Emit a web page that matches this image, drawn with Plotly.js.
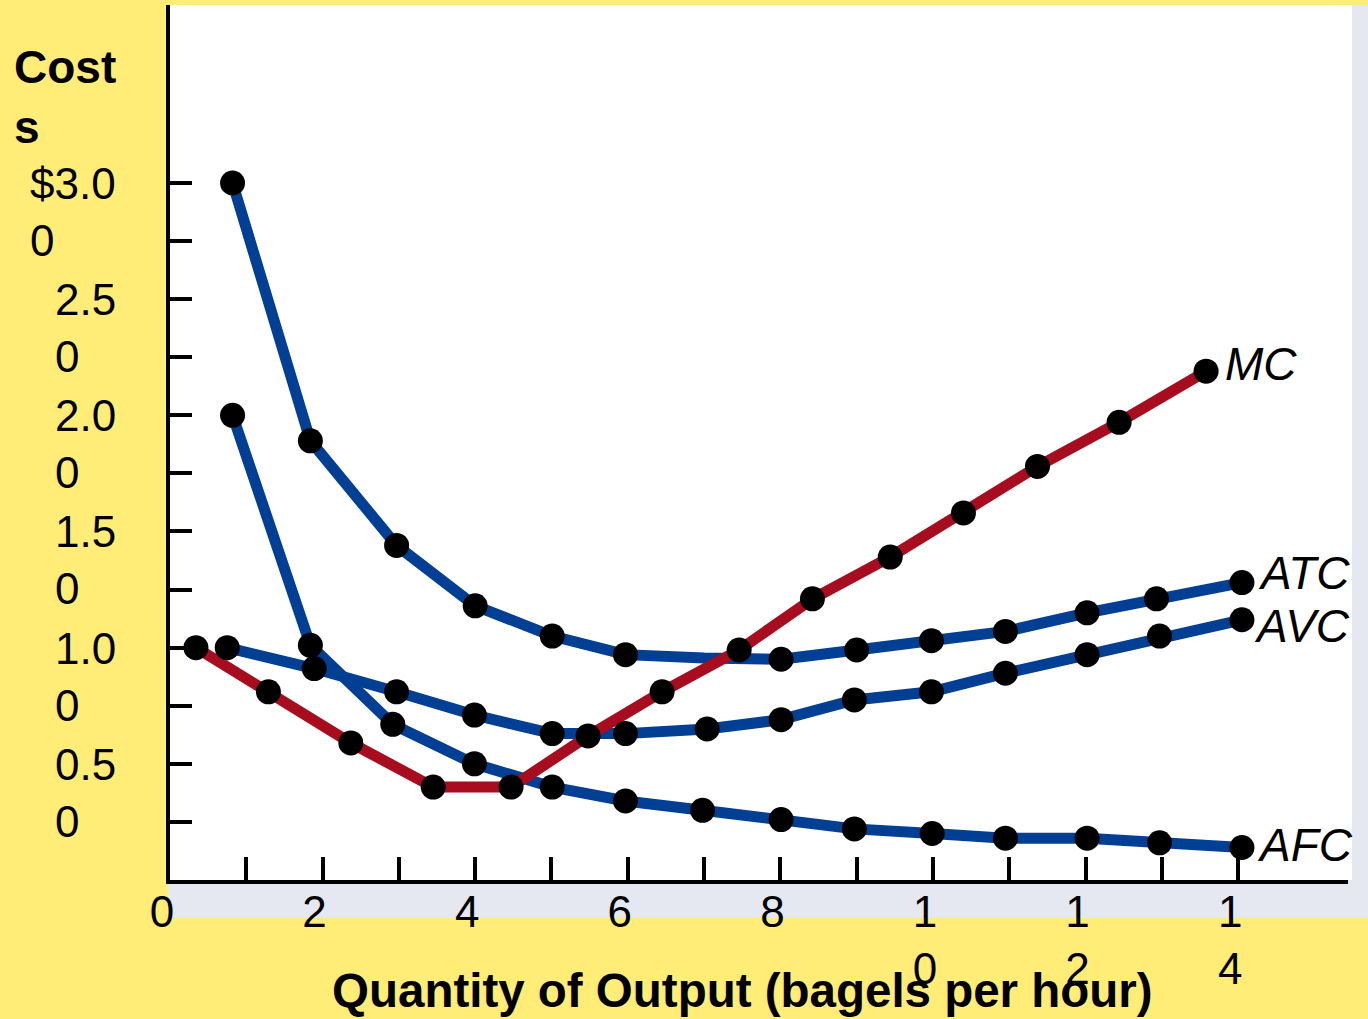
<!DOCTYPE html>
<html>
<head>
<meta charset="utf-8">
<script src="https://cdn.plot.ly/plotly-3.0.1.min.js"></script>
<style>
  html, body { margin: 0; padding: 0; background: #FFED78; }
  #chart { width: 1368px; height: 1019px; }
</style>
</head>
<body>
<div id="chart"></div>
<script>
// ---- Data ----
const qATC = [0.82, 1.84, 2.97, 4.00, 5.01, 5.97, 7.00, 8.01, 9.00, 9.98, 10.95, 12.02, 12.93, 14.05];
const atc  = [3.00, 1.89, 1.44, 1.18, 1.05, 0.97, 0.955, 0.95, 0.99, 1.03, 1.07, 1.15, 1.21, 1.28];
const atcUnmarked = [6];   // index of the ATC vertex drawn without a dot

const qAVC = [0.75, 1.89, 2.97, 3.99, 5.01, 5.97, 7.04, 8.01, 8.97, 9.98, 10.95, 12.02, 12.97, 14.05];
const avc  = [1.00, 0.91, 0.81, 0.71, 0.63, 0.63, 0.65, 0.69, 0.775, 0.81, 0.89, 0.97, 1.05, 1.12];

const qAFC = [0.82, 1.84, 2.92, 3.99, 5.01, 5.97, 6.98, 8.01, 8.97, 9.99, 10.95, 12.02, 12.97, 14.05];
const afc  = [2.00, 1.01, 0.67, 0.50, 0.40, 0.34, 0.30, 0.26, 0.22, 0.20, 0.18, 0.18, 0.16, 0.14];

const qMC = [0.34, 1.29, 2.37, 3.45, 4.47, 5.48, 6.45, 7.46, 8.42, 9.44, 10.40, 11.37, 12.44, 13.58];
const mc  = [1.00, 0.81, 0.59, 0.40, 0.40, 0.62, 0.81, 0.99, 1.21, 1.39, 1.58, 1.78, 1.97, 2.19];

const curveNames = ["MC", "ATC", "AVC", "AFC"];

const xTickVals = [0, 1, 2, 3, 4, 5, 6, 7, 8, 9, 10, 11, 12, 13, 14];
const xTickText = ["0", "", "2", "", "4", "", "6", "", "8", "", "1<br>0", "", "1<br>2", "", "1<br>4"];
const yTickVals = [0.25, 0.50, 0.75, 1.00, 1.25, 1.50, 1.75, 2.00, 2.25, 2.50, 2.75, 3.00];
const yLabelVals = [3.00, 2.50, 2.00, 1.50, 1.00, 0.50];
const yLabelText = ["$3.0<br>0", "2.5<br>0", "2.0<br>0", "1.5<br>0", "1.0<br>0", "0.5<br>0"];

const yTitle = "Cost<br>s";
const xTitle = "Quantity of Output (bagels per hour)";

// ---- Styles ----
const FONT = "Liberation Sans, Arial, Helvetica, sans-serif";
const BLUE = "#003F94";
const RED = "#A80D1F";
const YELLOW = "#FFED78";
const BAND = "#E5E8F0";
const LW = 11;
const DOT = 25;

function lineTrace(x, y, color) {
  return { type: "scatter", mode: "lines", x: x, y: y,
           line: { color: color, width: LW }, hoverinfo: "skip", showlegend: false };
}
function dotTrace(x, y, skip) {
  const xs = [], ys = [];
  x.forEach((v, i) => { if (!(skip || []).includes(i)) { xs.push(v); ys.push(y[i]); } });
  return { type: "scatter", mode: "markers", x: xs, y: ys,
           marker: { color: "black", size: DOT }, hoverinfo: "skip", showlegend: false };
}

const traces = [
  lineTrace(qAFC, afc, BLUE),
  lineTrace(qAVC, avc, BLUE),
  lineTrace(qATC, atc, BLUE),
  lineTrace(qMC, mc, RED),
  dotTrace(qAFC, afc),
  dotTrace(qAVC, avc),
  dotTrace(qATC, atc, atcUnmarked),
  dotTrace(qMC, mc)
];

const annotations = [];
// y tick labels (left-aligned lines, first line centred on its tick)
yLabelVals.forEach((v, i) => {
  annotations.push({
    xref: "paper", x: 0, xshift: -52, xanchor: "right",
    yref: "y", y: v, yanchor: "middle", yshift: -29,
    text: yLabelText[i], align: "left", showarrow: false,
    font: { family: FONT, size: 44, color: "black" }
  });
});
// axis titles
annotations.push({
  xref: "paper", x: (12 - 170) / 1178, xanchor: "left",
  yref: "paper", y: (880 - 97) / 875, yanchor: "middle",
  text: "<b>" + yTitle + "</b>", align: "left", showarrow: false,
  font: { family: FONT, size: 46, color: "black" }
});
annotations.push({
  xref: "paper", x: (742 - 170) / 1178, xanchor: "center",
  yref: "paper", y: (880 - 990) / 875, yanchor: "middle",
  text: "<b>" + xTitle + "</b>", showarrow: false,
  font: { family: FONT, size: 47.5, color: "black" }
});
// curve labels at the last point of each curve
const lastPts = [
  [qMC[qMC.length - 1], mc[mc.length - 1], 17, 7],
  [qATC[qATC.length - 1], atc[atc.length - 1], 14, 10],
  [qAVC[qAVC.length - 1], avc[avc.length - 1], 10, -6],
  [qAFC[qAFC.length - 1], afc[afc.length - 1], 13, 2]
];
curveNames.forEach((n, i) => {
  annotations.push({
    xref: "x", x: lastPts[i][0], xanchor: "left", xshift: lastPts[i][2],
    yref: "y", y: lastPts[i][1], yanchor: "middle", yshift: lastPts[i][3],
    text: "<i>" + n + "</i>", showarrow: false,
    font: { family: FONT, size: 46, color: "black" }
  });
});

const layout = {
  width: 1368, height: 1019,
  margin: { l: 170, r: 20, t: 5, b: 139, pad: 0 },
  paper_bgcolor: YELLOW,
  plot_bgcolor: "white",
  showlegend: false,
  xaxis: {
    range: [0, 15.44], showgrid: false, zeroline: false,
    showline: true, linecolor: "black", linewidth: 4,
    ticks: "inside", ticklen: 23, tickwidth: 4, tickcolor: "black",
    tickmode: "array", tickvals: xTickVals, ticktext: xTickText,
    ticklabelshift: -8, ticklabelstandoff: -10,
    tickfont: { family: FONT, size: 44, color: "black" },
    fixedrange: true
  },
  yaxis: {
    range: [0, 3.766], showgrid: false, zeroline: false,
    showline: true, linecolor: "black", linewidth: 4,
    ticks: "inside", ticklen: 22, tickwidth: 4, tickcolor: "black",
    tickmode: "array", tickvals: yTickVals, showticklabels: false,
    fixedrange: true
  },
  shapes: [
    { type: "rect", xref: "paper", yref: "paper", layer: "below",
      x0: (168 - 170) / 1178, x1: (1368 - 170) / 1178, y0: (880 - 918) / 875, y1: 0,
      fillcolor: BAND, line: { width: 0 } },
    { type: "rect", xref: "paper", yref: "paper", layer: "below",
      x0: (1352 - 170) / 1178, x1: (1368 - 170) / 1178, y0: (880 - 918) / 875, y1: (880 - 5) / 875,
      fillcolor: BAND, line: { width: 0 } },
    { type: "rect", xref: "paper", yref: "paper", layer: "below",
      x0: 1, x1: (1352 - 170) / 1178, y0: 0, y1: 1,
      fillcolor: "white", line: { width: 0 } }
  ],
  annotations: annotations
};

Plotly.newPlot("chart", traces, layout, { displayModeBar: false, staticPlot: true });
</script>
</body>
</html>
